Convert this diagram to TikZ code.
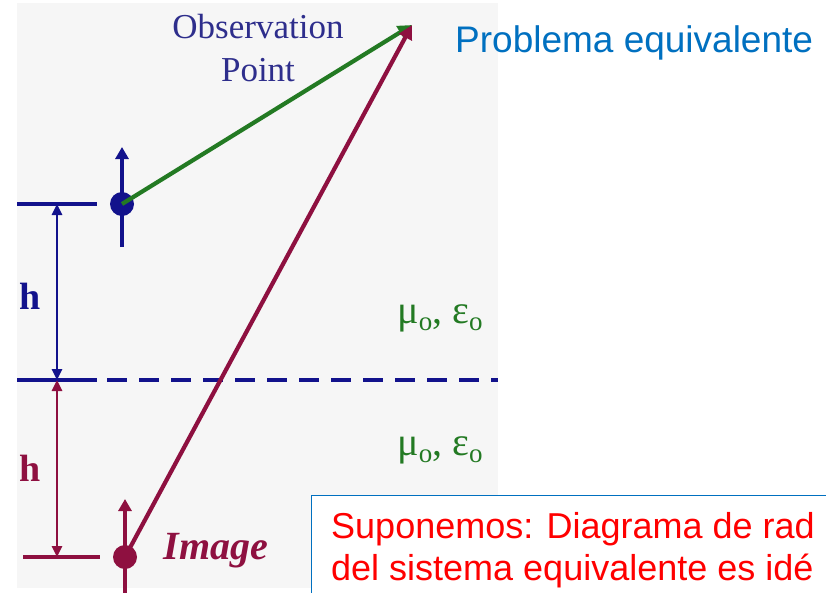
\documentclass[tikz,border=0pt]{standalone}
\usepackage{fontspec}
\setmainfont{Liberation Serif}
\newfontfamily\arialfont{Liberation Sans}
\usepackage{xcolor}
\usepackage{tikz}
\usetikzlibrary{arrows.meta,positioning,calc}
\definecolor{dipblue}{HTML}{12128C}
\definecolor{maroon}{HTML}{8E1040}
\definecolor{fieldgreen}{HTML}{237A23}
\definecolor{obsblue}{HTML}{2E2E8C}
\definecolor{titleblue}{HTML}{0070C0}
\definecolor{panelgrey}{HTML}{F6F6F6}
\newcommand{\subo}{\raisebox{-7pt}{\fontsize{27}{30}\selectfont o}}
\tikzset{
    every picture/.style={line join=round},
    dipdot/.style={circle,inner sep=0pt,minimum size=24pt},
    dipstem/.style={line width=4.6pt,-{Triangle[length=12pt,width=13pt]}},
    raytip/.style={line width=4.2pt,-{Triangle[length=14pt,width=14pt]}},
    dimarrow/.style={line width=2.6pt,{Triangle[length=11pt,width=10pt]}-{Triangle[length=11pt,width=10pt]}},
    tickline/.style={line width=3.4pt},
    hlabel/.style={font=\fontsize{38}{40}\selectfont\bfseries,inner sep=0pt},
    medium/.style={text=fieldgreen,font=\fontsize{40}{44}\selectfont,inner sep=0pt},
    slidetext/.style={font=\arialfont\fontsize{36}{42}\selectfont,inner sep=0pt}
}
\begin{document}
\begin{tikzpicture}[x=1pt,y=-1pt]
  \useasboundingbox (0,0) rectangle (826,592);
  \clip (0,0) rectangle (826,592);
  \fill[white] (0,0) rectangle (826,592);
  \fill[panelgrey] (17,3) rectangle (498,588);

  % ground plane
  \draw[dipblue,line width=4.8pt] (17,380) -- (97,380);
  \draw[dipblue,line width=4.8pt,dash pattern=on 20pt off 12pt] (107,380) -- (498,380);

  % source dipole and its image
  \node[dipdot,fill=dipblue] (src) at (122,204) {};
  \node[dipdot,fill=maroon] (img) at (125,557) {};
  \coordinate (obs) at (412,25);
  \draw[dipstem,dipblue] (122,247) -- (122,147);
  \draw[dipstem,maroon] (125,600) -- (125,499);
  \draw[raytip,fieldgreen] (src.center) -- (obs);
  \draw[raytip,maroon] (img.center) -- (obs);

  % heights
  \coordinate (top) at (57,204);
  \coordinate (mid) at (57,380);
  \coordinate (bot) at (57,557);
  \draw[tickline,dipblue] (17,204) -- (97,204);
  \draw[tickline,maroon] (23,557) -- (100,557);
  \draw[dimarrow,dipblue] (top) -- (mid);
  \draw[dimarrow,maroon] (mid) -- (bot);
  \node[hlabel,text=dipblue] (hup) at (30,296) {h};
  \node[hlabel,text=maroon] (hdown) at (30,468) {h};

  % labels
  \node[text=obsblue,align=center,font=\fontsize{35}{43}\selectfont,inner sep=0pt]
    (obslabel) at (258,48) {Observation\\Point};
  \node[text=maroon,font=\fontsize{40}{44}\selectfont\bfseries\itshape,inner sep=0pt]
    (imglabel) at (216,551) {Image};
  \node[medium] (upper) at (440,318) {μ\subo, ε\subo};
  \node[medium] (lower) at (440,450) {μ\subo, ε\subo};
  \node[slidetext,font=\arialfont\fontsize{37}{42}\selectfont,text=titleblue,anchor=base west]
    (title) at (455,52) {Problema equivalente};

  % note box
  \node[draw=titleblue,line width=1.4pt,fill=white,anchor=north west,
    minimum width=560pt,minimum height=120pt] (note) at (311,495) {};
  \node[slidetext,text=red,anchor=base west] (line1) at (331,538) {Suponemos: Diagrama de rad};
  \node[slidetext,text=red,anchor=base west] (line2) at (331,580) {del sistema equivalente es idé};
\end{tikzpicture}
\end{document}
